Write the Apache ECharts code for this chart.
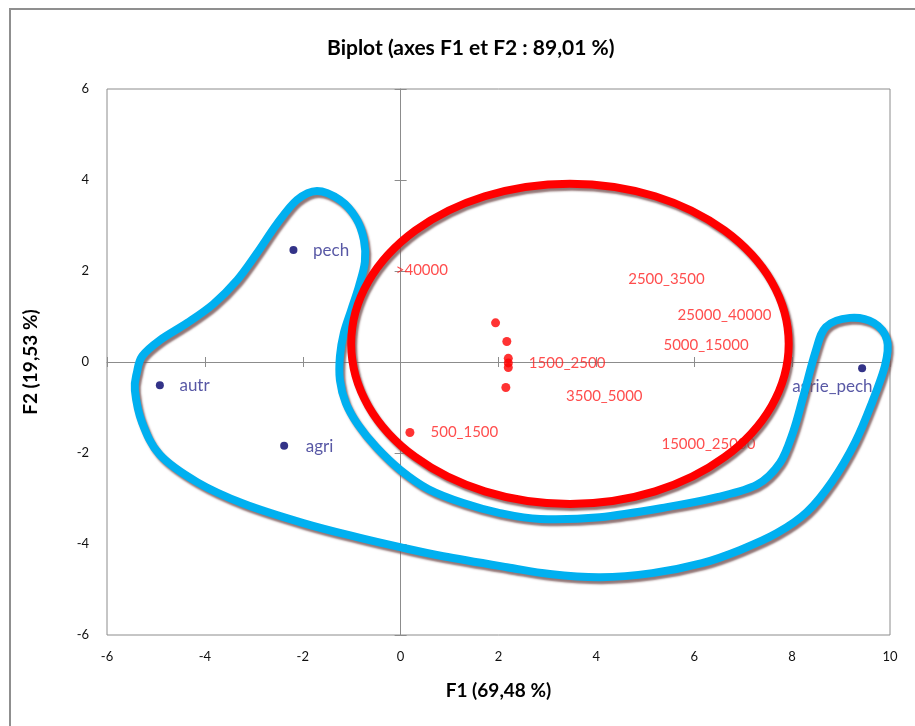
<!DOCTYPE html>
<html>
<head>
<meta charset="utf-8">
<script src="https://cdn.jsdelivr.net/npm/echarts@6/dist/echarts.min.js"></script>
<style>
html,body{margin:0;padding:0;background:#fff;}
#chart{width:915px;height:726px;}
</style>
</head>
<body>
<div id="chart"></div>
<script>
// ---- data ----
var xTicks = [-6, -4, -2, 0, 2, 4, 6, 8, 10];
var yTicks = [-6, -4, -2, 0, 2, 4, 6];

// observations (blue)
var blueNames = ['pech', 'autr', 'agri', 'agrie_pech'];
var bluePoints = [[-2.19, 2.46], [-4.92, -0.51], [-2.38, -1.84], [9.43, -0.14]];
var blueLabelAnchors = [[-1.80, 2.46], [-4.53, -0.51], [-1.95, -1.85], [7.99, -0.54]];

// variables (red)
var redPoints = [[1.94, 0.86], [2.17, 0.45], [2.20, 0.08], [2.20, -0.02], [2.20, -0.12], [2.15, -0.56], [0.19, -1.55]];
var redNames = ['>40000', '2500_3500', '25000_40000', '5000_15000', '1500_2500', '3500_5000', '500_1500', '15000_25000'];
var redLabelAnchors = [[-0.11, 2.02], [4.64, 1.82], [5.65, 1.03], [5.36, 0.36], [2.61, -0.03], [3.37, -0.76], [0.60, -1.55], [5.32, -1.80]];

// hand-drawn annotations
var redEllipse = [3.46, 0.40, 4.47, 3.52]; // centre x, centre y, radius x, radius y
var blueOutline = [
  [-1.71, 3.76], [-1.24, 3.56], [-0.91, 3.16], [-0.75, 2.68], [-0.73, 2.20], [-0.85, 1.67],
  [-1.01, 1.14], [-1.16, 0.64], [-1.24, 0.13], [-1.24, -0.40], [-1.12, -0.90], [-0.87, -1.38],
  [-0.50, -1.87], [-0.01, -2.37], [0.56, -2.79], [1.28, -3.10], [2.03, -3.32], [2.85, -3.45],
  [4.07, -3.41], [5.44, -3.19], [6.47, -2.97], [7.28, -2.70], [7.75, -2.22], [8.02, -1.54],
  [8.22, -0.79], [8.47, 0.20], [8.69, 0.77], [9.18, 0.97], [9.67, 0.86], [9.94, 0.48],
  [9.90, -0.07], [9.63, -0.90], [9.29, -1.76], [8.82, -2.62], [8.30, -3.30], [7.69, -3.76],
  [6.94, -4.13], [6.16, -4.42], [5.14, -4.64], [4.08, -4.73], [3.05, -4.66], [2.17, -4.51],
  [0.87, -4.27], [-0.01, -4.07], [-0.89, -3.85], [-1.99, -3.54], [-3.22, -3.11], [-4.16, -2.64],
  [-4.92, -2.04], [-5.28, -1.34], [-5.43, -0.62], [-5.39, -0.24], [-5.28, 0.13], [-4.92, 0.48],
  [-4.36, 0.86], [-3.83, 1.27], [-3.34, 1.80], [-2.93, 2.40], [-2.53, 3.03], [-2.12, 3.56]
];

// ---- build ----
var FONT = 'Lato';

function labelData(anchors, names) {
  return anchors.map(function (a, i) { return [a[0], a[1], names[i]]; });
}

var xMin = xTicks[0], xMax = xTicks[xTicks.length - 1], xStep = xTicks[1] - xTicks[0];
var yMin = yTicks[0], yMax = yTicks[yTicks.length - 1], yStep = yTicks[1] - yTicks[0];

function xAx(extra) {
  var base = {
    type: 'value', min: xMin, max: xMax, interval: xStep, position: 'bottom',
    splitLine: { show: false },
    axisLine: { show: false, onZero: false },
    axisTick: { show: false },
    axisLabel: { show: false }
  };
  return Object.assign(base, extra);
}
function yAx(extra) {
  var base = {
    type: 'value', min: yMin, max: yMax, interval: yStep, position: 'left',
    splitLine: { show: false },
    axisLine: { show: false, onZero: false },
    axisTick: { show: false },
    axisLabel: { show: false }
  };
  return Object.assign(base, extra);
}
var zeroLine = { color: '#8c8c8c', width: 1 };
var shadow = { shadowColor: 'rgba(120,85,85,0.8)', shadowBlur: 2, shadowOffsetX: 2, shadowOffsetY: 3 };

// closed Catmull-Rom path through outline points, in pixels via the axes
function closedSplinePath(pts) {
  var n = pts.length;
  var d = 'M' + pts[0][0] + ' ' + pts[0][1];
  for (var i = 0; i < n; i++) {
    var p0 = pts[(i - 1 + n) % n], p1 = pts[i], p2 = pts[(i + 1) % n], p3 = pts[(i + 2) % n];
    var c1x = p1[0] + (p2[0] - p0[0]) / 6, c1y = p1[1] + (p2[1] - p0[1]) / 6;
    var c2x = p2[0] - (p3[0] - p1[0]) / 6, c2y = p2[1] - (p3[1] - p1[1]) / 6;
    d += ' C' + c1x + ' ' + c1y + ' ' + c2x + ' ' + c2y + ' ' + p2[0] + ' ' + p2[1];
  }
  return d + ' Z';
}

var option = {
  animation: false,
  backgroundColor: '#fff',
  textStyle: { fontFamily: FONT },
  title: {
    text: 'Biplot (axes F1 et F2 : 89,01 %)',
    left: 322, top: 33,
    textStyle: { fontFamily: FONT, fontSize: 21, fontWeight: 'bold', color: '#000' }
  },
  graphic: [{
    type: 'rect', shape: { x: 10, y: 9, width: 960, height: 760 },
    style: { fill: 'none', stroke: '#8f8f8f', lineWidth: 2 }, silent: true, z: -10
  }],
  grid: {
    left: 107, top: 89, width: 783, height: 546,
    show: true, borderColor: '#8c8c8c', borderWidth: 1, backgroundColor: 'transparent'
  },
  xAxis: [
    xAx({
      axisLabel: { show: true, margin: 15, fontFamily: FONT, fontSize: 13, color: '#111' },
      name: 'F1 (69,48 %)', nameLocation: 'middle', nameGap: 46,
      nameTextStyle: { fontFamily: FONT, fontSize: 19, fontWeight: 'bold', color: '#000' }
    }),
    xAx({ axisLine: { show: true, onZero: true, onZeroAxisIndex: 0, lineStyle: zeroLine },
          axisTick: { show: true, inside: true, length: 5, lineStyle: zeroLine } }),
    xAx({ axisLine: { show: false, onZero: true, onZeroAxisIndex: 0 },
          axisTick: { show: true, inside: false, length: 5, lineStyle: zeroLine } })
  ],
  yAxis: [
    yAx({
      axisLabel: { show: true, margin: 18, fontFamily: FONT, fontSize: 13, color: '#111' },
      name: 'F2 (19,53 %)', nameLocation: 'middle', nameGap: 67,
      nameTextStyle: { fontFamily: FONT, fontSize: 19, fontWeight: 'bold', color: '#000' }
    }),
    yAx({ axisLine: { show: true, onZero: true, onZeroAxisIndex: 0, lineStyle: zeroLine },
          axisTick: { show: true, inside: true, length: 6, lineStyle: zeroLine } }),
    yAx({ axisLine: { show: false, onZero: true, onZeroAxisIndex: 0 },
          axisTick: { show: true, inside: false, length: 6, lineStyle: zeroLine } })
  ],
  series: [
    {
      type: 'scatter', name: 'obs', data: bluePoints, symbolSize: 8, z: 2,
      itemStyle: { color: '#00006a' }, silent: true
    },
    {
      type: 'scatter', name: 'vars', data: redPoints, symbolSize: 9, z: 2,
      itemStyle: { color: '#ff0000' }, silent: true
    },
    {
      type: 'scatter', name: 'obsLabels', data: labelData(blueLabelAnchors, blueNames),
      symbolSize: 1, itemStyle: { color: 'rgba(0,0,0,0)' }, z: 2, silent: true,
      label: { show: true, position: 'right', distance: 0, formatter: function (p) { return p.value[2]; },
               fontFamily: FONT, fontSize: 17, color: '#2e2e8e' }
    },
    {
      type: 'scatter', name: 'varLabels', data: labelData(redLabelAnchors, redNames),
      symbolSize: 1, itemStyle: { color: 'rgba(0,0,0,0)' }, z: 2, silent: true,
      label: { show: true, position: 'right', distance: 0, formatter: function (p) { return p.value[2]; },
               fontFamily: FONT, fontSize: 15, color: '#ff2020' }
    },
    {
      type: 'custom', name: 'outline', data: blueOutline, clip: false, z: 4, silent: true,
      renderItem: function (params, api) {
        if (params.dataIndex !== 0) return null;
        var px = blueOutline.map(function (p) { return api.coord(p); });
        return {
          type: 'path',
          shape: { pathData: closedSplinePath(px) },
          style: Object.assign({ fill: 'none', stroke: '#00b0f0', lineWidth: 8, lineJoin: 'round' }, shadow)
        };
      }
    },
    {
      type: 'custom', name: 'ellipse', data: [redEllipse], clip: false, z: 5, silent: true,
      renderItem: function (params, api) {
        var c = api.coord([api.value(0), api.value(1)]);
        var s = api.size([api.value(2), api.value(3)]);
        return {
          type: 'ellipse',
          shape: { cx: c[0], cy: c[1], rx: s[0], ry: s[1] },
          style: Object.assign({ fill: 'none', stroke: '#ff0000', lineWidth: 8 }, shadow)
        };
      }
    }
  ]
};

var chart = echarts.init(document.getElementById('chart'), null, { renderer: 'canvas' });
chart.setOption(option);
</script>
</body>
</html>
